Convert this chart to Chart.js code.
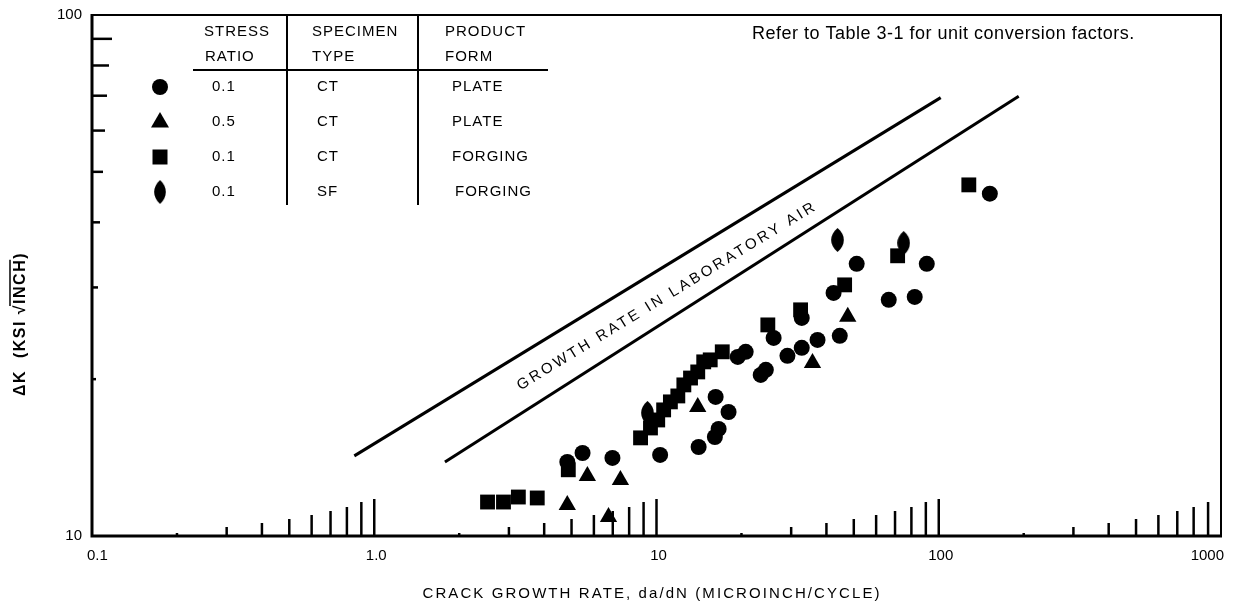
<!DOCTYPE html>
<html>
<head>
<meta charset="utf-8">
<script src="https://cdn.jsdelivr.net/npm/chart.js@4.4.1/dist/chart.umd.min.js"></script>
<style>
  html, body { margin: 0; padding: 0; background: #fff; }
</style>
</head>
<body>
<canvas id="crackChart" width="1234" height="607"></canvas>
<script>
const FONT = '"Liberation Sans", Arial, Helvetica, sans-serif';

// x = da/dN (microinch/cycle), y = delta K (ksi sqrt(inch))
const plateR01 = [
  {x: 4.83, y: 13.87}, {x: 5.47, y: 14.43}, {x: 6.98, y: 14.12}, {x: 10.3, y: 14.31},
  {x: 14.1, y: 14.82}, {x: 16.1, y: 15.49}, {x: 16.6, y: 16.05}, {x: 18.0, y: 17.3},
  {x: 16.2, y: 18.49}, {x: 19.4, y: 22.07}, {x: 20.7, y: 22.57}, {x: 23.4, y: 20.38},
  {x: 24.4, y: 20.84}, {x: 26.0, y: 24.0}, {x: 29.1, y: 22.17}, {x: 32.7, y: 22.97},
  {x: 37.2, y: 23.79}, {x: 32.7, y: 26.22}, {x: 44.6, y: 24.22}, {x: 42.4, y: 29.28},
  {x: 51.2, y: 33.3}, {x: 66.5, y: 28.4}, {x: 82.2, y: 28.77}, {x: 90.7, y: 33.3},
  {x: 151.7, y: 45.4},
];
const plateR05 = [
  {x: 4.83, y: 11.47}, {x: 5.69, y: 13.04}, {x: 6.76, y: 10.88}, {x: 7.45, y: 12.81},
  {x: 14.0, y: 17.69}, {x: 35.7, y: 21.49}, {x: 47.6, y: 26.34},
];
const forgingCT = [
  {x: 2.52, y: 11.62}, {x: 2.87, y: 11.62}, {x: 3.24, y: 11.88}, {x: 3.78, y: 11.83},
  {x: 4.87, y: 13.4}, {x: 8.78, y: 15.43}, {x: 9.52, y: 16.12}, {x: 10.1, y: 16.7},
  {x: 10.6, y: 17.46}, {x: 11.2, y: 18.09}, {x: 11.9, y: 18.57}, {x: 12.5, y: 19.5},
  {x: 13.2, y: 20.1}, {x: 14.0, y: 20.65}, {x: 14.7, y: 21.59}, {x: 15.5, y: 21.78},
  {x: 17.1, y: 22.57}, {x: 24.8, y: 25.42}, {x: 32.4, y: 27.17}, {x: 46.4, y: 30.34},
  {x: 71.5, y: 34.5}, {x: 127.8, y: 47.2},
];
const forgingSF = [
  {x: 9.29, y: 17.23}, {x: 43.8, y: 37.0}, {x: 75.1, y: 36.5},
];

// band for growth rate in laboratory air
const bandUpper = [{x: 0.85, y: 14.25}, {x: 101.6, y: 69.4}];
const bandLower = [{x: 1.78, y: 13.87}, {x: 192, y: 69.8}];
const bandLabel = "GROWTH RATE IN LABORATORY AIR";
const bandLabelAt = {x: 10.8, y: 28.8};

const xTickValues = [0.1, 1, 10, 100, 1000];
const xTickLabels = ["0.1", "1.0", "10", "100", "1000"];
const yTickValues = [10, 100];
const yTickLabels = ["10", "100"];

const legendStress = ["0.1", "0.5", "0.1", "0.1"];
const legendSpecimen = ["CT", "CT", "CT", "SF"];
const legendProduct = ["PLATE", "PLATE", "FORGING", "FORGING"];

// tick lengths for 2..10 of each decade (x) and 20..90 (y)
const xTickLen = [3, 9, 13, 17, 21, 25, 29, 34, 37];
const yTickLen = [4, 6, 8, 11, 13, 15, 17, 20];

function lozenge(w, h) {
  const c = document.createElement("canvas");
  c.width = w; c.height = h;
  const g = c.getContext("2d");
  g.fillStyle = "#000";
  g.beginPath();
  g.moveTo(w / 2, 0);
  g.bezierCurveTo(w * 1.15, h * 0.28, w * 1.15, h * 0.72, w / 2, h);
  g.bezierCurveTo(-w * 0.15, h * 0.72, -w * 0.15, h * 0.28, w / 2, 0);
  g.fill();
  return c;
}
const sfMark = lozenge(13, 24);

function drawMark(ctx, style, x, y) {
  ctx.beginPath();
  if (style === "circle") {
    ctx.arc(x, y, 8, 0, Math.PI * 2);
  } else if (style === "triangle") {
    ctx.moveTo(x, y - 10);
    ctx.lineTo(x + 9, y + 5.5);
    ctx.lineTo(x - 9, y + 5.5);
    ctx.closePath();
  } else if (style === "rect") {
    ctx.rect(x - 7.5, y - 7.5, 15, 15);
  } else {
    ctx.drawImage(sfMark, x - 6, y - 12, 12, 24);
    return;
  }
  ctx.fill();
}

// draws text so that it spans the given width (letter spacing adjusted)
function spreadText(ctx, text, x, y, width, align) {
  ctx.letterSpacing = "0px";
  const w = ctx.measureText(text).width;
  const sp = (width - w) / Math.max(text.length - 1, 1);
  ctx.letterSpacing = sp + "px";
  ctx.textAlign = "left";
  let sx = x;
  if (align === "center") sx = x - width / 2;
  if (align === "right") sx = x - width;
  ctx.fillText(text, sx, y);
  ctx.letterSpacing = "0px";
}

const axesPlugin = {
  id: "axesPlugin",
  beforeDatasetsDraw(chart) {
    const { ctx, chartArea: a, scales: { x, y } } = chart;
    ctx.save();
    ctx.strokeStyle = "#000";
    ctx.fillStyle = "#000";

    // frame
    ctx.lineWidth = 2;
    ctx.beginPath();
    ctx.moveTo(a.left, a.top);
    ctx.lineTo(a.right, a.top);
    ctx.lineTo(a.right, a.bottom);
    ctx.stroke();
    ctx.lineWidth = 3;
    ctx.beginPath();
    ctx.moveTo(a.left, a.top - 1);
    ctx.lineTo(a.left, a.bottom);
    ctx.lineTo(a.right + 1, a.bottom);
    ctx.stroke();

    // x ticks, growing through each decade
    ctx.lineWidth = 2.5;
    for (let d = -1; d <= 2; d++) {
      for (let k = 2; k <= 10; k++) {
        const v = k * Math.pow(10, d);
        if (v >= 1000) continue;
        const px = x.getPixelForValue(v);
        ctx.beginPath();
        ctx.moveTo(px, a.bottom);
        ctx.lineTo(px, a.bottom - xTickLen[k - 2]);
        ctx.stroke();
      }
    }
    // y ticks on the left axis
    for (let k = 2; k <= 9; k++) {
      const py = y.getPixelForValue(k * 10);
      ctx.beginPath();
      ctx.moveTo(a.left, py);
      ctx.lineTo(a.left + yTickLen[k - 2], py);
      ctx.stroke();
    }

    // tick labels
    ctx.font = "15px " + FONT;
    ctx.textBaseline = "middle";
    xTickValues.forEach((v, i) => {
      const px = x.getPixelForValue(v);
      if (i === 0) { ctx.textAlign = "left"; ctx.fillText(xTickLabels[i], px - 5, a.bottom + 20); }
      else if (i === xTickValues.length - 1) { ctx.textAlign = "right"; ctx.fillText(xTickLabels[i], px + 3, a.bottom + 20); }
      else { ctx.textAlign = "center"; ctx.fillText(xTickLabels[i], px + 2, a.bottom + 20); }
    });
    ctx.textAlign = "right";
    yTickValues.forEach((v, i) => {
      ctx.fillText(yTickLabels[i], a.left - 10, y.getPixelForValue(v));
    });

    // axis titles
    ctx.font = "15px " + FONT;
    spreadText(ctx, "CRACK GROWTH RATE, da/dN (MICROINCH/CYCLE)", 651, 594, 457, "center");

    ctx.save();
    ctx.translate(21, 324);
    ctx.rotate(-Math.PI / 2);
    ctx.font = "bold 16px " + FONT;
    ctx.letterSpacing = "1.5px";
    const parts = ["\u0394K  (KSI ", "\u221A", "INCH", ")"];
    const widths = parts.map((p) => ctx.measureText(p).width);
    const total = widths.reduce((s, w) => s + w, 0);
    let cx = -total / 2;
    ctx.textAlign = "left";
    parts.forEach((p, i) => {
      ctx.fillText(p, cx, 0);
      if (i === 2) {
        ctx.lineWidth = 1.5;
        ctx.beginPath();
        ctx.moveTo(cx - 2, -11);
        ctx.lineTo(cx + widths[i] - 1, -11);
        ctx.stroke();
      }
      cx += widths[i];
    });
    ctx.restore();

    ctx.restore();
  },
  afterDraw(chart) {
    const { ctx, scales: { x, y } } = chart;
    ctx.save();
    ctx.fillStyle = "#000";
    ctx.strokeStyle = "#000";

    // legend table
    ctx.lineWidth = 2;
    ctx.beginPath();
    ctx.moveTo(287, 15); ctx.lineTo(287, 205);
    ctx.moveTo(418, 15); ctx.lineTo(418, 205);
    ctx.moveTo(193, 70); ctx.lineTo(548, 70);
    ctx.stroke();

    ctx.font = "15px " + FONT;
    ctx.textBaseline = "middle";
    ctx.textAlign = "left";
    ctx.letterSpacing = "1px";
    ctx.fillText("STRESS", 204, 32);
    ctx.fillText("RATIO", 205, 57);
    ctx.fillText("SPECIMEN", 312, 32);
    ctx.fillText("TYPE", 312, 57);
    ctx.fillText("PRODUCT", 445, 32);
    ctx.fillText("FORM", 445, 57);

    const rowY = [87, 122, 157, 192];
    const marks = ["circle", "triangle", "rect", "sf"];
    rowY.forEach((ry, i) => {
      drawMark(ctx, marks[i], 160, ry);
      ctx.fillText(legendStress[i], 212, ry);
      ctx.fillText(legendSpecimen[i], 317, ry);
      ctx.fillText(legendProduct[i], i === 3 ? 455 : 452, ry);
    });
    ctx.letterSpacing = "0px";

    ctx.font = "18px " + FONT;
    ctx.letterSpacing = "0.5px";
    ctx.fillText("Refer to Table 3-1 for unit conversion factors.", 752, 34);
    ctx.letterSpacing = "0px";

    // label along the band
    const p1 = {x: x.getPixelForValue(bandUpper[0].x), y: y.getPixelForValue(bandUpper[0].y)};
    const p2 = {x: x.getPixelForValue(bandUpper[1].x), y: y.getPixelForValue(bandUpper[1].y)};
    const ang = Math.atan2(p2.y - p1.y, p2.x - p1.x);
    ctx.translate(x.getPixelForValue(bandLabelAt.x), y.getPixelForValue(bandLabelAt.y));
    ctx.rotate(ang);
    ctx.font = "15px " + FONT;
    spreadText(ctx, bandLabel, 0, 0, 346, "center");
    ctx.restore();
  },
};

const markerSet = (data, style, radius) => ({
  data: data,
  pointStyle: style,
  pointRadius: radius,
  pointHoverRadius: radius,
  backgroundColor: "#000",
  borderColor: "#000",
  borderWidth: 0,
});
const bandLine = (data) => ({
  data: data,
  showLine: true,
  borderColor: "#000",
  borderWidth: 3,
  pointRadius: 0,
  fill: false,
});

new Chart(document.getElementById("crackChart").getContext("2d"), {
  type: "scatter",
  data: {
    datasets: [
      bandLine(bandUpper),
      bandLine(bandLower),
      markerSet(plateR01, "circle", 8),
      markerSet(plateR05, "triangle", 10),
      markerSet(forgingCT, "rect", 10.5),
      markerSet(forgingSF, sfMark, 12),
    ],
  },
  options: {
    responsive: false,
    animation: false,
    devicePixelRatio: 1,
    events: [],
    layout: { padding: { left: 92, right: 13, top: 15, bottom: 71 } },
    scales: {
      x: { type: "logarithmic", min: 0.1, max: 1000, display: false },
      y: { type: "logarithmic", min: 10, max: 100, display: false },
    },
    plugins: { legend: { display: false }, tooltip: { enabled: false } },
  },
  plugins: [axesPlugin],
});
</script>
</body>
</html>
